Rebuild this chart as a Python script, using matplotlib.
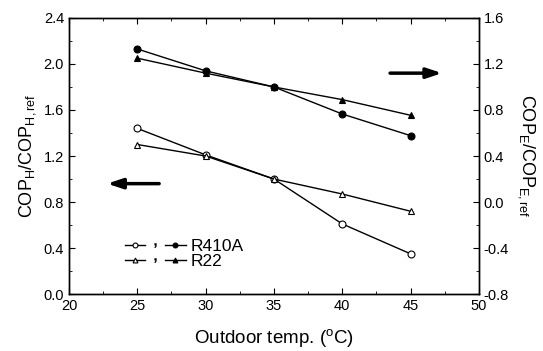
import matplotlib
matplotlib.use("Agg")
import matplotlib.pyplot as plt
from matplotlib.lines import Line2D
from matplotlib.legend_handler import HandlerTuple
from matplotlib.ticker import MultipleLocator

plt.rcParams['font.family'] = ['Liberation Sans', 'DejaVu Sans']
plt.rcParams['mathtext.fontset'] = 'custom'
plt.rcParams['mathtext.rm'] = 'Liberation Sans'
plt.rcParams['mathtext.it'] = 'Liberation Sans:italic'

temps = [25, 30, 35, 40, 45]
r410a_heat = [1.44, 1.21, 1.00, 0.61, 0.35]
r22_heat = [1.30, 1.20, 1.00, 0.87, 0.72]
r410a_cool = [1.33, 1.14, 1.00, 0.765, 0.577]
r22_cool = [1.25, 1.12, 1.00, 0.89, 0.754]

fig = plt.figure(figsize=(5.43, 3.51), dpi=100)
ax = fig.add_axes([0.127, 0.162, 0.755, 0.787])
ax2 = ax.twinx()

kw = dict(color='black', lw=1.0, ms=5, markeredgewidth=0.8)
l1, = ax.plot(temps, r410a_heat, marker='o', mfc='white', **kw)
l2, = ax.plot(temps, r22_heat, marker='^', mfc='white', **kw)
l3, = ax2.plot(temps, r410a_cool, marker='o', mfc='black', **kw)
l4, = ax2.plot(temps, r22_cool, marker='^', mfc='black', **kw)

ax.set_xlim(20, 50)
ax.set_ylim(0.0, 2.4)
ax2.set_ylim(-0.8, 1.6)
ax.xaxis.set_major_locator(MultipleLocator(5))
ax.xaxis.set_minor_locator(MultipleLocator(2.5))
ax.yaxis.set_major_locator(MultipleLocator(0.4))
ax.yaxis.set_minor_locator(MultipleLocator(0.2))
ax2.yaxis.set_major_locator(MultipleLocator(0.4))
ax2.yaxis.set_minor_locator(MultipleLocator(0.2))
ax.yaxis.set_major_formatter(matplotlib.ticker.FormatStrFormatter('%.1f'))
ax2.yaxis.set_major_formatter(matplotlib.ticker.FormatStrFormatter('%.1f'))

ax.tick_params(axis='both', which='both', direction='in', top=True, labelsize=10.5)
ax.tick_params(which='major', length=4)
ax.tick_params(which='minor', length=2)
ax2.tick_params(axis='y', which='both', direction='in', labelsize=10.5)
ax2.tick_params(which='major', length=4)
ax2.tick_params(which='minor', length=2)
for a in (ax, ax2):
    for s in a.spines.values():
        s.set_linewidth(1.0)

ax.set_xlabel('Outdoor temp. ($^{\\mathregular{o}}$C)', fontsize=13.5, labelpad=10)
ax.set_ylabel('COP$_{\\mathregular{H}}$/COP$_{\\mathregular{H,ref}}$', fontsize=13, labelpad=4)
ax2.set_ylabel('COP$_{\\mathregular{E}}$/COP$_{\\mathregular{E,ref}}$', fontsize=13, rotation=270, labelpad=20)

# arrows
ax.annotate('', xy=(22.8, 0.96), xytext=(26.6, 0.96),
            arrowprops=dict(arrowstyle='-|>,head_length=0.9,head_width=0.3', color='black', lw=2.5, shrinkA=0, shrinkB=0))
ax2.annotate('', xy=(47.3, 1.12), xytext=(43.5, 1.12),
             arrowprops=dict(arrowstyle='-|>,head_length=0.9,head_width=0.3', color='black', lw=2.5, shrinkA=0, shrinkB=0))

lkw = dict(color='black', lw=1.0, ms=3.5, markeredgewidth=0.8)
comma = Line2D([], [], ls='none', marker='$,$', color='black', ms=3, markeredgewidth=0.3)
h1 = (Line2D([], [], marker='o', mfc='white', **lkw), comma, Line2D([], [], marker='o', mfc='black', **lkw))
h2 = (Line2D([], [], marker='^', mfc='white', **lkw), comma, Line2D([], [], marker='^', mfc='black', **lkw))
leg = ax.legend([h1, h2], ['R410A', 'R22'], handler_map={tuple: HandlerTuple(ndivide=None, pad=0.0)},
                loc='lower left', bbox_to_anchor=(0.115, 0.06), frameon=False, fontsize=12.5,
                handlelength=3.5, handletextpad=0.3, labelspacing=0.0, borderpad=0)

fig.savefig('out.png', dpi=100)
